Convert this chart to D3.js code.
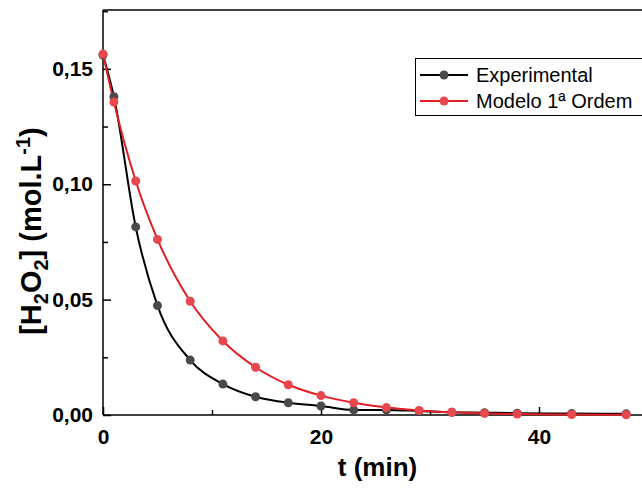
<!DOCTYPE html>
<html>
<head>
<meta charset="utf-8">
<script src="https://cdn.jsdelivr.net/npm/d3@7"></script>
<style>
  html, body { margin: 0; padding: 0; background: #fff; }
  svg { display: block; }
  text { font-family: "Liberation Sans", Arial, sans-serif; }
</style>
</head>
<body>
<svg id="chart" width="642" height="489"></svg>
<script>
// ---- data ----
const times = [0, 1, 3, 5, 8, 11, 14, 17, 20, 23, 26, 29, 32, 35, 38, 43, 48];
const experimental = [0.1560, 0.1379, 0.0815, 0.0474, 0.0238, 0.0134, 0.0079, 0.0053, 0.0039, 0.0022, 0.0022, 0.0017, 0.0012, 0.0010, 0.0008, 0.0006, 0.0005];
const modelo = [0.1564, 0.1356, 0.1014, 0.0761, 0.0493, 0.0321, 0.0207, 0.0131, 0.0084, 0.0053, 0.0032, 0.0020, 0.0012, 0.0007, 0.0004, 0.0002, 0.0001];
const seriesNames = ["Experimental", "Modelo 1ª Ordem"];
const xTicks = [0, 20, 40];
const xMinorTicks = [10, 30, 50];
const yTicks = [0, 0.05, 0.10, 0.15];
const yMinorTicks = [0.025, 0.075, 0.125, 0.175];
const yTickLabels = ["0,00", "0,05", "0,10", "0,15"];

const svg = d3.select("#chart");
const m = { left: 103, right: 648, top: 10, bottom: 415 };
const x = d3.scaleLinear().domain([0, 50]).range([m.left, m.right]);
const y = d3.scaleLinear().domain([0, 0.1755]).range([m.bottom, m.top]);

const lineCol = { exp: "#000000", mod: "#e31e24" };
const ptCol = { exp: "#4a4a4a", mod: "#e8474d" };

// frame
const g = svg.append("g");
g.append("line").attr("x1", m.left).attr("x2", m.right).attr("y1", m.top).attr("y2", m.top)
  .attr("stroke", "#000").attr("stroke-width", 1.5);

// axes with inward ticks
const xAxis = d3.axisBottom(x).tickValues(xTicks).tickSize(-8).tickPadding(14).tickFormat(d3.format("d"));
const xMinor = d3.axisBottom(x).tickValues(xMinorTicks).tickSize(-5).tickFormat("");
const yAxis = d3.axisLeft(y).tickValues(yTicks).tickSize(-8).tickPadding(10)
  .tickFormat((d, i) => yTickLabels[i]);
const yMinor = d3.axisLeft(y).tickValues(yMinorTicks).tickSize(-5).tickFormat("");

function style(sel) {
  sel.select(".domain").attr("stroke", "#000").attr("stroke-width", 1.5);
  sel.selectAll(".tick line").attr("stroke", "#000").attr("stroke-width", 1.5);
  sel.selectAll("text").attr("font-size", 21).attr("font-weight", "bold")
    .attr("fill", "#000").attr("font-family", "'Liberation Sans', Arial, sans-serif");
}
g.append("g").attr("transform", `translate(0,${m.bottom})`).call(xMinor).call(style).select(".domain").remove();
g.append("g").attr("transform", `translate(${m.left},0)`).call(yMinor).call(style).select(".domain").remove();
const gx = g.append("g").attr("transform", `translate(0,${m.bottom})`).call(xAxis).call(style);
const gy = g.append("g").attr("transform", `translate(${m.left},0)`).call(yAxis).call(style);
gy.select(".domain").attr("d", `M0,${m.bottom}V${m.top}`);
gx.select(".domain").attr("d", `M${m.left},0H${m.right}`);

// data series
const expData = times.map((t, i) => ({ t, v: experimental[i] }));
const modData = times.map((t, i) => ({ t, v: modelo[i] }));
const line = d3.line().x(d => x(d.t)).y(d => y(d.v)).curve(d3.curveMonotoneX);

g.append("path").datum(expData).attr("d", line).attr("fill", "none")
  .attr("stroke", lineCol.exp).attr("stroke-width", 2);
g.append("path").datum(modData).attr("d", line).attr("fill", "none")
  .attr("stroke", lineCol.mod).attr("stroke-width", 2);
g.selectAll("circle.exp").data(expData).enter().append("circle")
  .attr("cx", d => x(d.t)).attr("cy", d => y(d.v)).attr("r", 4.5).attr("fill", ptCol.exp);
g.selectAll("circle.mod").data(modData).enter().append("circle")
  .attr("cx", d => x(d.t)).attr("cy", d => y(d.v)).attr("r", 4.5).attr("fill", ptCol.mod);

// axis titles
svg.append("text").attr("x", (m.left + m.right) / 2 + 2).attr("y", 476)
  .attr("text-anchor", "middle").attr("font-size", 26).attr("font-weight", "bold").text("t (min)");

const yl = svg.append("text").attr("transform", `translate(41,231) rotate(-90)`)
  .attr("text-anchor", "middle").attr("font-size", 29).attr("font-weight", "bold");
yl.append("tspan").text("[H");
yl.append("tspan").attr("font-size", 20).attr("dy", 7).text("2");
yl.append("tspan").attr("dy", -7).text("O");
yl.append("tspan").attr("font-size", 20).attr("dy", 7).text("2");
yl.append("tspan").attr("dy", -7).text("] (mol.L");
yl.append("tspan").attr("font-size", 20).attr("dy", -11).text("-1");
yl.append("tspan").attr("dy", 11).text(")");

// legend
const lg = svg.append("g");
lg.append("rect").attr("x", 415.5).attr("y", 58.5).attr("width", 240).attr("height", 57)
  .attr("fill", "#fff").attr("stroke", "#000").attr("stroke-width", 1);
const rows = [
  { name: seriesNames[0], lc: lineCol.exp, pc: ptCol.exp, y: 75 },
  { name: seriesNames[1], lc: lineCol.mod, pc: ptCol.mod, y: 101 }
];
rows.forEach(r => {
  lg.append("line").attr("x1", 420).attr("x2", 468).attr("y1", r.y).attr("y2", r.y)
    .attr("stroke", r.lc).attr("stroke-width", 2);
  lg.append("circle").attr("cx", 444).attr("cy", r.y).attr("r", 4.5).attr("fill", r.pc);
  lg.append("text").attr("x", 476).attr("y", r.y + 7).attr("font-size", 20).attr("fill", "#000").text(r.name);
});
</script>
</body>
</html>
